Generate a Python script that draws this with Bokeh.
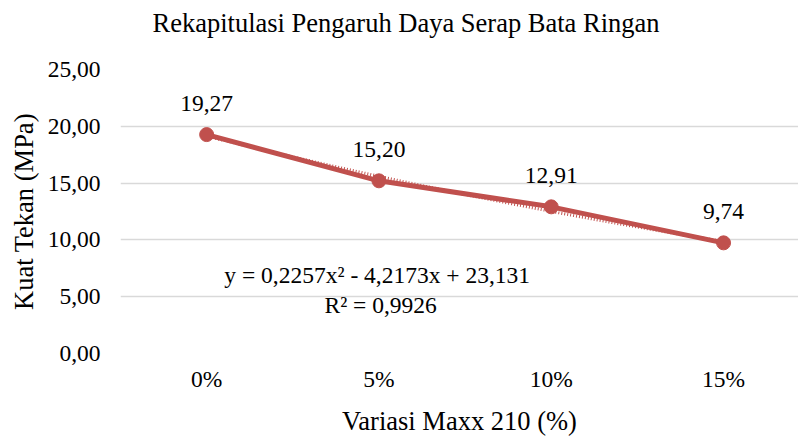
import numpy as np
from bokeh.plotting import figure
from bokeh.models import FixedTicker, Label, ColumnDataSource, Title
from bokeh.embed import file_html
from bokeh.resources import INLINE
from bokeh.core.properties import value

# ---- data ----
categories = ["0%", "5%", "10%", "15%"]
kuat_tekan = [19.27, 15.20, 12.91, 9.74]
y_ticks = [0, 5, 10, 15, 20, 25]
title_text = "Rekapitulasi Pengaruh Daya Serap Bata Ringan"
x_label = "Variasi Maxx 210 (%)"
y_label = "Kuat Tekan (MPa)"
eq_text = "y = 0,2257x² - 4,2173x + 23,131"
r2_text = "R² = 0,9926"

FONT = "'Liberation Serif', 'Times New Roman', serif"
RED = "#C0504D"
GRID = "#D9D9D9"


def fmt(v):
    return f"{v:.2f}".replace(".", ",")


xs = list(range(len(categories)))

p = figure(width=798, height=441, output_backend="svg", toolbar_location=None,
           x_range=(-0.5, 3.435), y_range=(0, 25),
           min_border_left=120, min_border_right=0, min_border_top=69,
           min_border_bottom=88)
p.outline_line_color = None
p.background_fill_color = "white"
p.border_fill_color = "white"

p.title.text = title_text
p.title.text_font = FONT
p.title.text_font_size = "26.5px"
p.title.text_font_style = "normal"
p.title.text_color = "black"
p.title.align = "left"
p.title.offset = 32
p.title.standoff = 0
p.title.vertical_align = "bottom"

# invisible spacer between title and plot area (lifts the title upward)
p.add_layout(Title(text=" ", text_font_size="1px", standoff=29), "above")

# axes
p.xaxis.ticker = FixedTicker(ticks=xs)
p.xaxis.major_label_overrides = {i: c for i, c in zip(xs, categories)}
p.yaxis.ticker = FixedTicker(ticks=y_ticks)
p.yaxis.major_label_overrides = {t: fmt(t) for t in y_ticks}
for ax in (p.xaxis, p.yaxis):
    ax.axis_line_color = None
    ax.major_tick_line_color = None
    ax.minor_tick_line_color = None
    ax.major_tick_out = 0
    ax.major_tick_in = 0
    ax.major_label_text_font = FONT
    ax.major_label_text_font_size = "23.5px"
    ax.major_label_text_color = "black"
    ax.axis_label_text_font = FONT
    ax.axis_label_text_font_size = "26.5px"
    ax.axis_label_text_font_style = "normal"
    ax.axis_label_text_color = "black"
p.xaxis.axis_label = x_label
p.yaxis.axis_label = y_label
p.xaxis.major_label_standoff = 12
p.xaxis.axis_label_standoff = 11
p.yaxis.major_label_standoff = 20
p.yaxis.axis_label_standoff = 6

p.xgrid.visible = False
p.ygrid.ticker = FixedTicker(ticks=y_ticks)
p.ygrid.grid_line_color = GRID
p.ygrid.grid_line_width = 1.5

# trendline (polynomial order 2 fit of the data)
xn = np.arange(1, len(kuat_tekan) + 1)
coefs = np.polyfit(xn, kuat_tekan, 2)
xt = np.linspace(1, len(kuat_tekan), 120)
yt = np.polyval(coefs, xt)
p.line(xt - 1, yt, line_color=RED, line_width=3, line_dash="1 2")

src = ColumnDataSource(dict(x=xs, y=kuat_tekan, lab=[fmt(v) for v in kuat_tekan]))
p.line("x", "y", source=src, line_color=RED, line_width=5)
p.scatter("x", "y", source=src, size=14, marker="circle",
          fill_color=RED, line_color=RED)
p.text("x", "y", text="lab", source=src, text_align="center",
       text_baseline="middle", y_offset=-31,
       text_font=value(FONT), text_font_size="23.5px", text_color="black")

p.add_layout(Label(x=0.99, y=6.87, text=eq_text, text_align="center",
                   text_baseline="middle", text_font=FONT,
                   text_font_size="23.5px", text_color="black"))
p.add_layout(Label(x=1.01, y=4.23, text=r2_text, text_align="center",
                   text_baseline="middle", text_font=FONT,
                   text_font_size="23.5px", text_color="black"))

open("out.html", "w").write(file_html(p, INLINE))
